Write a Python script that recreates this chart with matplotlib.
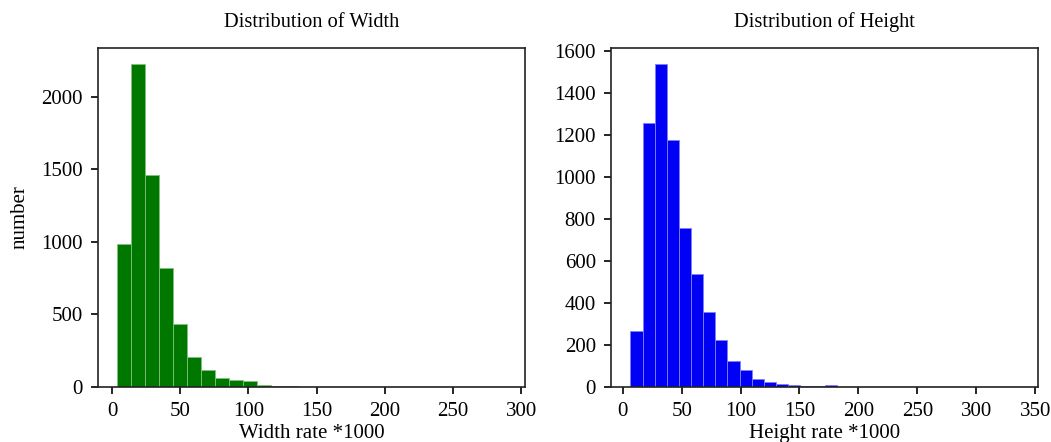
import matplotlib

matplotlib.use("Agg")
import matplotlib.pyplot as plt
import numpy as np

# bin edges and counts
width_edges = np.linspace(4, 290, 29)
width_counts = [987, 2222, 1462, 817, 434, 209, 119, 64, 45, 38, 16, 8, 4, 2,
                1, 1, 0, 0, 0, 0, 0, 0, 0, 0, 0, 0, 0, 1]

height_edges = np.linspace(6.5, 336, 33)
height_counts = [265, 1260, 1538, 1179, 759, 537, 356, 225, 125, 83, 38, 25, 16,
                 10, 6, 3, 8, 1, 0, 2, 0, 2, 0, 0, 0, 0, 0, 0, 0, 0, 0, 1]

plt.rcParams["font.family"] = ["Liberation Serif", "DejaVu Serif"]
plt.rcParams["font.size"] = 15
plt.rcParams["axes.titlesize"] = 14.7

fig = plt.figure(figsize=(10.51, 4.42), dpi=100)
ax1 = fig.add_axes([0.0932, 0.1244, 0.4063, 0.767])
ax2 = fig.add_axes([0.5814, 0.1244, 0.4063, 0.767])

for ax, edges, counts, color, edge, title, xlabel, xticks, yticks in [
    (ax1, width_edges, width_counts, "#007800", "#7fc07f", "Distribution of Width",
     "Width rate *1000", range(0, 301, 50), range(0, 2001, 500)),
    (ax2, height_edges, height_counts, "#0000f5", "#8080ff", "Distribution of Height",
     "Height rate *1000", range(0, 351, 50), range(0, 1601, 200)),
]:
    centers = (edges[:-1] + edges[1:]) / 2
    ax.hist(centers, bins=edges, weights=counts, color=color, edgecolor=edge, linewidth=0.6)
    ax.set_title(title, pad=15)
    ax.set_xlabel(xlabel, labelpad=2)
    ax.set_xticks(list(xticks))
    ax.set_yticks(list(yticks))
    ax.tick_params(direction="out", length=5, width=1.2, pad=6)
    for s in ax.spines.values():
        s.set_linewidth(1.2)
        s.set_color("#222222")

ax1.set_xlim(-10.3, 302.8)
ax1.set_ylim(0, 2335)
ax2.set_xlim(-9.9, 352.5)
ax2.set_ylim(0, 1615)
ax1.set_ylabel("number", labelpad=8)

fig.savefig("out.png", dpi=100)
